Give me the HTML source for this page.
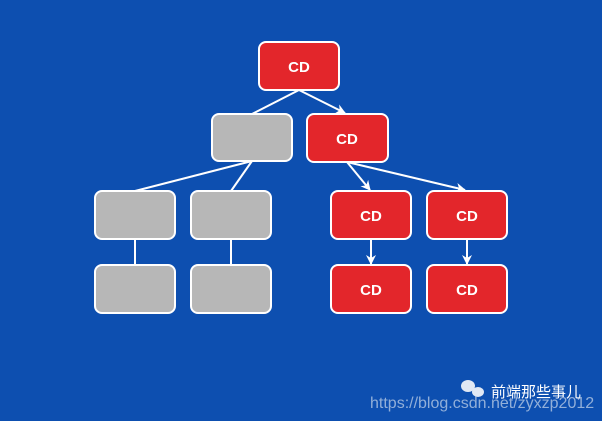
<!DOCTYPE html><html><head><style>body{margin:0}svg{display:block}</style></head><body>
<svg width="602" height="421" xmlns="http://www.w3.org/2000/svg" font-family="Liberation Sans, DejaVu Sans, sans-serif">
<rect width="602" height="421" fill="#0d4fb0"/>
<defs><marker id="a" markerWidth="10" markerHeight="10" refX="9" refY="5" orient="auto" markerUnits="userSpaceOnUse"><path d="M0,0 L10,5 L0,10 L3,5z" fill="#fff"/></marker></defs>
<g stroke="#fff" stroke-width="2" fill="none">
<line x1="299" y1="90" x2="252" y2="114"/>
<line x1="299" y1="90" x2="345" y2="113" marker-end="url(#a)"/>
<line x1="252" y1="161" x2="135" y2="191"/>
<line x1="252" y1="161" x2="231" y2="191"/>
<line x1="347" y1="162" x2="370" y2="190" marker-end="url(#a)"/>
<line x1="347" y1="162" x2="465" y2="190" marker-end="url(#a)"/>
<line x1="135" y1="239" x2="135" y2="265"/>
<line x1="231" y1="239" x2="231" y2="265"/>
<line x1="371" y1="239" x2="371" y2="264" marker-end="url(#a)"/>
<line x1="467" y1="239" x2="467" y2="264" marker-end="url(#a)"/>
</g>
<g stroke="#fff" stroke-width="2">
<rect x="259" y="42" width="80" height="48" rx="7" fill="#e3262b"/>
<rect x="212" y="114" width="80" height="47" rx="7" fill="#b7b7b7"/>
<rect x="307" y="114" width="81" height="48" rx="7" fill="#e3262b"/>
<rect x="95" y="191" width="80" height="48" rx="7" fill="#b7b7b7"/>
<rect x="191" y="191" width="80" height="48" rx="7" fill="#b7b7b7"/>
<rect x="331" y="191" width="80" height="48" rx="7" fill="#e3262b"/>
<rect x="427" y="191" width="80" height="48" rx="7" fill="#e3262b"/>
<rect x="95" y="265" width="80" height="48" rx="7" fill="#b7b7b7"/>
<rect x="191" y="265" width="80" height="48" rx="7" fill="#b7b7b7"/>
<rect x="331" y="265" width="80" height="48" rx="7" fill="#e3262b"/>
<rect x="427" y="265" width="80" height="48" rx="7" fill="#e3262b"/>
</g>
<g fill="#fff" font-weight="bold" font-size="15" text-anchor="middle">
<text x="299" y="72">CD</text>
<text x="347" y="144">CD</text>
<text x="371" y="221">CD</text>
<text x="467" y="221">CD</text>
<text x="371" y="295">CD</text>
<text x="467" y="295">CD</text>
</g>
<g fill="#e0e8f4"><ellipse cx="468" cy="386" rx="7" ry="6"/><ellipse cx="478" cy="392" rx="6" ry="5"/></g>
<text x="491" y="397" fill="#fff" font-size="15" font-family="Liberation Sans, Noto Sans CJK SC, sans-serif">前端那些事儿</text>
<text x="370" y="408" fill="#a9bfe0" fill-opacity="0.85" font-size="16">https://blog.csdn.net/zyxzp2012</text>
</svg>
</body></html>
